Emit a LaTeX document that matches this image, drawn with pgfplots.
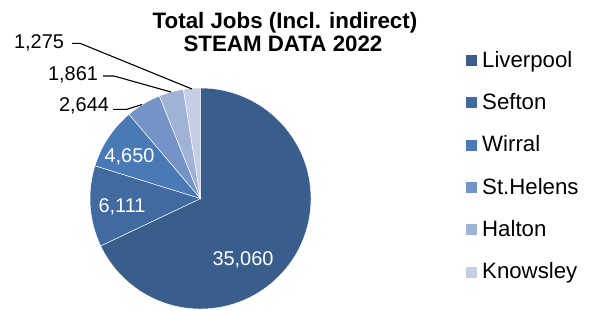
\documentclass[border=0pt]{standalone}
\usepackage{pgfplots}
\pgfplotsset{compat=1.18}
\usepackage{pgfplotstable}
\usepackage{fontspec}
\setmainfont{Liberation Sans}
\definecolor{c0}{RGB}{58,94,140}
\definecolor{c1}{RGB}{64,106,160}
\definecolor{c2}{RGB}{74,122,182}
\definecolor{c3}{RGB}{116,148,200}
\definecolor{c4}{RGB}{160,179,214}
\definecolor{c5}{RGB}{196,206,228}

\pgfplotstableread{
name value
Liverpool 35060
Sefton 6111
Wirral 4650
St.Helens 2644
Halton 1861
Knowsley 1275
}\piedata

\xdef\pietotal{0}
\pgfplotsforeachungrouped \i in {0,...,5}{%
  \pgfplotstablegetelem{\i}{value}\of\piedata
  \xdef\pietotal{\fpeval{\pietotal+\pgfplotsretval}}%
}
\xdef\cur{90}
\pgfplotsforeachungrouped \i in {0,...,5}{%
  \pgfplotstablegetelem{\i}{value}\of\piedata
  \expandafter\xdef\csname val\i\endcsname{\pgfplotsretval}%
  \expandafter\xdef\csname sa\i\endcsname{\cur}%
  \xdef\cur{\fpeval{\cur-360*\pgfplotsretval/\pietotal}}%
  \expandafter\xdef\csname ea\i\endcsname{\cur}%
  \pgfplotstablegetelem{\i}{name}\of\piedata
  \expandafter\xdef\csname nm\i\endcsname{\pgfplotsretval}%
}
\pgfkeys{/pgf/number format/.cd,1000 sep={,},assume math mode=true}
\newcommand\val[1]{\pgfmathprintnumber{\csname val#1\endcsname}}

\begin{document}
\begin{tikzpicture}
\begin{axis}[
  width=590bp, height=310bp, scale only axis,
  xmin=0, xmax=590, ymin=0, ymax=310, y dir=reverse,
  hide axis, clip=false]
% full picture frame as bounding box
\path (axis cs:0,0) rectangle (axis cs:590,310);
% pie slices
\pgfplotsinvokeforeach{0,...,5}{
  \fill[c#1, draw=white, line width=0.45bp] (axis cs:200.5,198.5) -- ++(\csname sa#1\endcsname:110.5bp)
    arc[start angle=\csname sa#1\endcsname, end angle=\csname ea#1\endcsname, radius=110.5bp] -- cycle;
}
% inside labels
\node[white, anchor=base, font=\fontsize{20}{24}\selectfont] at (axis cs:243,265) {\val{0}};
\node[white, anchor=base, font=\fontsize{20}{24}\selectfont] at (axis cs:122,212.3) {\val{1}};
\node[white, anchor=base, font=\fontsize{20}{24}\selectfont] at (axis cs:129.5,162.3) {\val{2}};
% outside labels with leaders
\draw[black, line width=1.1bp] (axis cs:113,109.3) -- (axis cs:127,109.3) -- (axis cs:142,104.5);
\draw[black, line width=1.1bp] (axis cs:103,76) -- (axis cs:114,76) -- (axis cs:171,92);
\draw[black, line width=1.1bp] (axis cs:72,43.3) -- (axis cs:80,43.3) -- (axis cs:192,89);
\node[anchor=base, font=\fontsize{20}{24}\selectfont] at (axis cs:84,111) {\val{3}};
\node[anchor=base, font=\fontsize{20}{24}\selectfont] at (axis cs:73,80) {\val{4}};
\node[anchor=base, font=\fontsize{20}{24}\selectfont] at (axis cs:39,48.3) {\val{5}};
% title
\node[anchor=base, font=\fontsize{22.4}{26}\selectfont\bfseries] at (axis cs:285,28.3) {Total Jobs (Incl. indirect)};
\node[anchor=base, font=\fontsize{22.4}{26}\selectfont\bfseries] at (axis cs:283,51.7) {STEAM DATA 2022};
% legend
\pgfplotsinvokeforeach{0,...,5}{
  \fill[c#1] (axis cs:466,{55+42.3*#1}) rectangle (axis cs:477,{66+42.3*#1});
  \node[anchor=base west, inner sep=0pt, font=\fontsize{22.3}{26}\selectfont] at (axis cs:482,{67.3+42.3*#1}) {\csname nm#1\endcsname};
}
\end{axis}
\end{tikzpicture}
\end{document}
